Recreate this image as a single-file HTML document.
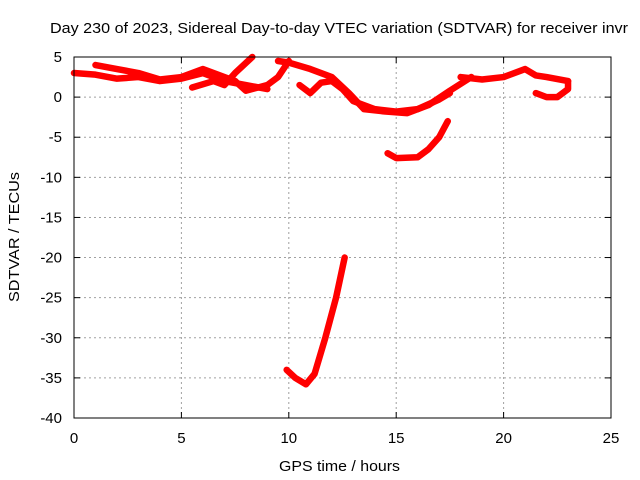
<!DOCTYPE html>
<html><head><meta charset="utf-8"><style>
body{margin:0;background:#fff}
svg{display:block;font-family:"Liberation Sans",sans-serif}
</style></head><body>
<svg id="c" width="640" height="480">
<rect width="640" height="480" fill="#fff"/>
<text x="50" y="33" font-size="15" textLength="578" lengthAdjust="spacingAndGlyphs">Day 230 of 2023, Sidereal Day-to-day VTEC variation (SDTVAR) for receiver invr</text>
<text x="279" y="471" font-size="15" textLength="121" lengthAdjust="spacingAndGlyphs">GPS time / hours</text>
<text transform="translate(19,237) rotate(-90)" font-size="15" text-anchor="middle" textLength="130" lengthAdjust="spacingAndGlyphs">SDTVAR / TECUs</text>
<g id="grid"></g><g id="ticks"></g><g id="series"></g>
<rect x="74" y="57" width="537" height="361" fill="none" stroke="#000" stroke-width="1"/>
</svg>
<script>
const xTicks=[0,5,10,15,20,25];
const yTicks=[5,0,-5,-10,-15,-20,-25,-30,-35,-40];
const trackAh=[0,1,2,3,4,5,6,7,8,9];
const trackAv=[3,2.8,2.3,2.5,2,2.3,3,2,1.5,1];
const trackBh=[1,2,3,4,5,6,6.5,7.5];
const trackBv=[4,3.5,3,2.2,2.5,3.5,3,2];
const trackCh=[5.5,6.5,7,7.5,8.3];
const trackCv=[1.2,2,1.5,3,5];
const trackDh=[7.5,8,9,9.5,10];
const trackDv=[2,0.8,1.5,2.5,4.5];
const trackEh=[9.5,10,11,12,12.8,13.5,14.5,15.5,16.5,17.5,18.5];
const trackEv=[4.5,4.3,3.5,2.5,0.5,-1.5,-1.8,-2,-1,0.8,2.5];
const trackFh=[10.5,11,11.5,12,12.5,13,14,15,16,17,17.5];
const trackFv=[1.5,0.5,1.8,2,1,-0.5,-1.5,-1.8,-1.5,-0.3,0.5];
const trackGh=[18,19,20,21,21.5,22,23];
const trackGv=[2.5,2.2,2.5,3.5,2.7,2.5,2];
const trackHh=[21.5,22,22.5,23,23];
const trackHv=[0.5,0,0,1,2];
const trackLowh=[14.6,15,16,16.5,17,17.4];
const trackLowv=[-7,-7.6,-7.5,-6.5,-5,-3];
const trackDeeph=[9.9,10.3,10.8,11.2,11.7,12.2,12.6];
const trackDeepv=[-34,-35,-35.8,-34.5,-30,-25,-20];
const tracks=[[trackAh,trackAv],[trackBh,trackBv],[trackCh,trackCv],[trackDh,trackDv],[trackEh,trackEv],[trackFh,trackFv],[trackGh,trackGv],[trackHh,trackHv],[trackLowh,trackLowv],[trackDeeph,trackDeepv]];
const X=h=>74+h*537/25, Y=v=>57+(5-v)*361/45;
const NS="http://www.w3.org/2000/svg";
const g=document.getElementById('grid'),t=document.getElementById('ticks'),s=document.getElementById('series');
function mk(tag,at,p){const e=document.createElementNS(NS,tag);for(const k in at)e.setAttribute(k,at[k]);p.appendChild(e);return e;}
xTicks.forEach(v=>{const x=X(v);
 if(v>0&&v<25){const l=mk('line',{x1:x,x2:x,y1:57,y2:418,stroke:'#a0a0a0','stroke-dasharray':'2,3'},g);
 
 }
 mk('line',{x1:x,x2:x,y1:418,y2:412,stroke:'#000'},t);mk('line',{x1:x,x2:x,y1:57,y2:63,stroke:'#000'},t);
 const tx=mk('text',{x:x,y:443,'font-size':15,'text-anchor':'middle'},t);tx.textContent=v;
 
 });
yTicks.forEach(v=>{const y=Y(v);
 if(v<5&&v>-40){const l=mk('line',{x1:74,x2:611,y1:y,y2:y,stroke:'#a0a0a0','stroke-dasharray':'2,3'},g);
 
 }
 mk('line',{x1:74,x2:80,y1:y,y2:y,stroke:'#000'},t);mk('line',{x1:611,x2:605,y1:y,y2:y,stroke:'#000'},t);
 const tx=mk('text',{x:62,y:y+5,'font-size':15,'text-anchor':'end'},t);tx.textContent=v;
 
 });
tracks.forEach(([h,v])=>{const p=mk('polyline',{points:h.map((a,i)=>X(a)+','+Y(v[i])).join(' '),fill:'none',stroke:'#f00','stroke-width':6.5,'stroke-linejoin':'round','stroke-linecap':'round'},s);
 
 });
</script>
</body></html>
